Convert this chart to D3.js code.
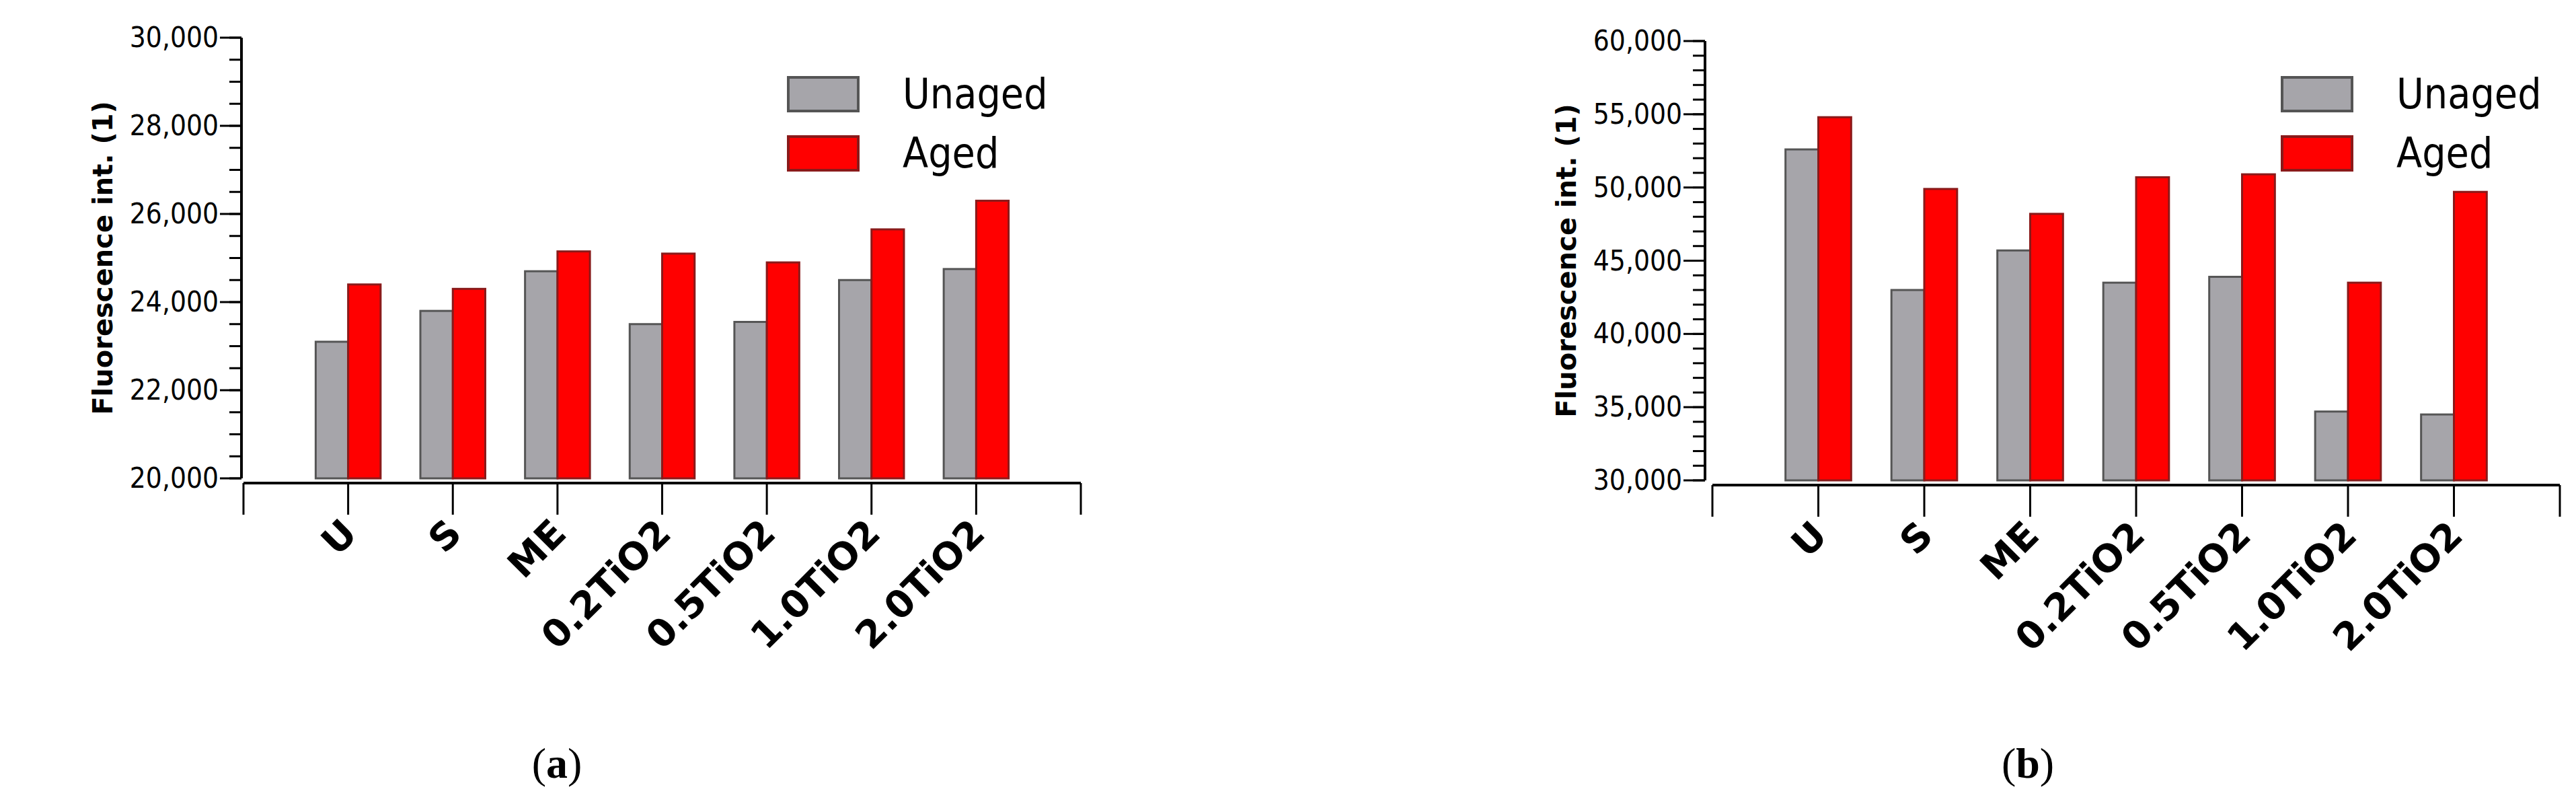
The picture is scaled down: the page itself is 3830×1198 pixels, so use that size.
<!DOCTYPE html>
<html><head><meta charset="utf-8">
<script src="https://cdn.jsdelivr.net/npm/d3@7"></script>
<style>body{margin:0;background:#fff}</style>
</head><body>
<svg width="3830" height="1198"></svg>
<script>
var categories = ["U", "S", "ME", "0.2TiO2", "0.5TiO2", "1.0TiO2", "2.0TiO2"];
var seriesNames = ["Unaged", "Aged"];
var unagedA = [23100, 23800, 24700, 23500, 23550, 24500, 24750];
var agedA = [24400, 24300, 25150, 25100, 24900, 25650, 26300];
var unagedB = [52600, 43000, 45700, 43500, 43900, 34700, 34500];
var agedB = [54800, 49900, 48200, 50700, 50900, 43500, 49700];
var ticksA = [20000, 22000, 24000, 26000, 28000, 30000];
var ticksB = [30000, 35000, 40000, 45000, 50000, 55000, 60000];
var colors = ["#a6a5aa", "#ff0000"];
var strokes = ["#555", "#8a1a1a"];

var svg = d3.select("svg");

function panel(o) {
  var g = svg.append("g");
  var y = d3.scaleLinear().domain(o.domain).range([o.y1, o.y0]);
  // 8 units wide, categories on 1..7
  var x = d3.scaleLinear().domain([0, 8]).range([o.xl, o.xr]);
  var bw = (x(1) - x(0)) * 0.31;

  // minor ticks
  var minor = d3.range(o.domain[0], o.domain[1] + 1, o.minor);
  g.selectAll(".mt").data(minor).enter().append("line")
    .attr("x1", o.ax - 18).attr("x2", o.ax)
    .attr("y1", d => y(d)).attr("y2", d => y(d))
    .attr("stroke", "#000").attr("stroke-width", 3);
  g.selectAll(".Mt").data(o.ticks).enter().append("line")
    .attr("x1", o.ax - 32).attr("x2", o.ax)
    .attr("y1", d => y(d)).attr("y2", d => y(d))
    .attr("stroke", "#000").attr("stroke-width", 3);
  g.append("line").attr("x1", o.ax).attr("x2", o.ax)
    .attr("y1", o.y0).attr("y2", o.y1).attr("stroke", "#000").attr("stroke-width", 4);
  g.selectAll(".tl").data(o.ticks).enter().append("text")
    .attr("x", o.ax - 34).attr("y", d => y(d) + 14)
    .attr("text-anchor", "end")
    .style("font", "42px 'DejaVu Sans Condensed'")
    .text(d => d3.format(",")(d));

  g.append("text")
    .attr("transform", "translate(" + (o.ax - 192) + "," + ((o.y0 + o.y1) / 2) + ") rotate(-90)")
    .attr("text-anchor", "middle")
    .style("font", "bold 40px 'DejaVu Sans'")
    .text("Fluorescence int. (1)");

  // bars
  [o.u, o.a].forEach(function (vals, s) {
    g.selectAll(".b" + s).data(vals).enter().append("rect")
      .attr("x", (d, i) => s == 0 ? x(i + 1) - bw : x(i + 1))
      .attr("width", bw)
      .attr("y", d => y(d))
      .attr("height", d => y(o.domain[0]) - y(d))
      .attr("fill", colors[s]).attr("stroke", strokes[s]).attr("stroke-width", 3);
  });

  // x axis
  var xa = o.y1 + 7;
  g.append("line").attr("x1", o.xl).attr("x2", o.xr).attr("y1", xa).attr("y2", xa)
    .attr("stroke", "#000").attr("stroke-width", 4);
  g.selectAll(".xt").data(d3.range(0, 9)).enter().append("line")
    .attr("x1", d => x(d)).attr("x2", d => x(d))
    .attr("y1", xa).attr("y2", xa + 47)
    .attr("stroke", "#000").attr("stroke-width", 3);
  g.selectAll(".xl").data(categories).enter().append("text")
    .attr("transform", (d, i) => "translate(" + (x(i + 1) + 16) + "," + (xa + 78) + ") rotate(-45)")
    .attr("text-anchor", "end")
    .style("font", "bold 56px 'DejaVu Sans'")
    .text(d => d);

  // legend
  seriesNames.forEach(function (n, s) {
    var ly = o.ly + s * 88;
    g.append("rect").attr("x", o.lx).attr("y", ly).attr("width", 104).attr("height", 50)
      .attr("fill", colors[s]).attr("stroke", strokes[s]).attr("stroke-width", 4);
    g.append("text").attr("x", o.lx + 170).attr("y", ly + 46)
      .style("font", "62px 'DejaVu Sans Condensed'").text(n);
  });

  g.append("text").attr("x", o.cap).attr("y", 1156).attr("text-anchor", "middle")
    .style("font", "64px 'Liberation Serif'")
    .html("(<tspan font-weight='bold'>" + o.letter + "</tspan>)");
}

panel({domain: [20000, 30000], ticks: ticksA, minor: 500, u: unagedA, a: agedA,
  ax: 359, y0: 56, y1: 711, xl: 362, xr: 1607, lx: 1172, ly: 115, cap: 828, letter: "a"});
panel({domain: [30000, 60000], ticks: ticksB, minor: 1000, u: unagedB, a: agedB,
  ax: 2535, y0: 61, y1: 714, xl: 2546, xr: 3806, lx: 3393, ly: 115, cap: 3015, letter: "b"});
</script>
</body></html>
